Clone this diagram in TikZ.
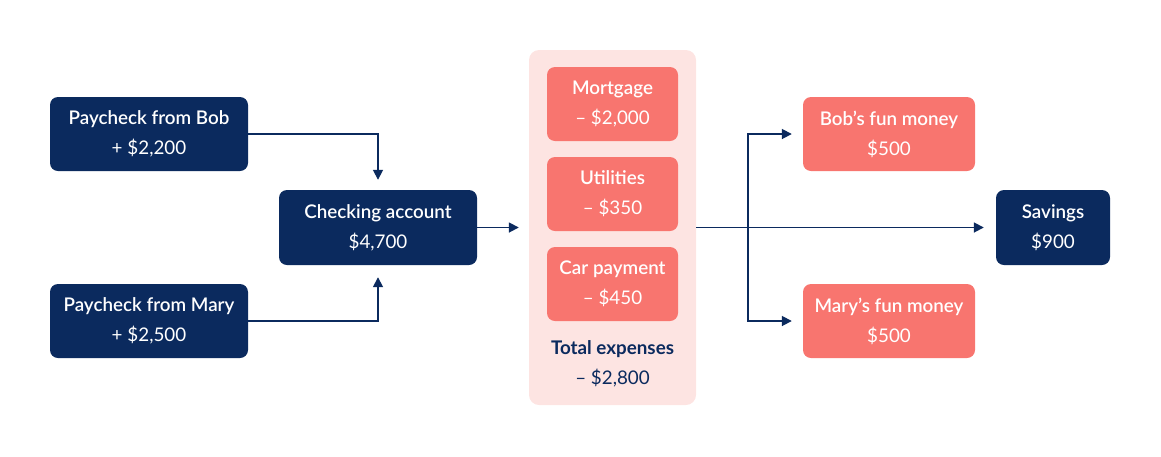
\documentclass[tikz,border=0pt]{standalone}
\usepackage{fontspec}
\setmainfont{Lato}
\newfontfamily\semi{Lato Semibold}
\usetikzlibrary{arrows.meta}
\definecolor{navy}{HTML}{0B2A5E}
\definecolor{coral}{HTML}{F8756F}
\definecolor{blush}{HTML}{FDE4E2}
\tikzset{
  box/.style={rounded corners=8pt, inner sep=0pt, align=center, text=white,
    font=\fontsize{18.8}{30}\selectfont},
  navybox/.style={box, fill=navy},
  coralbox/.style={box, fill=coral},
  conn/.style={draw=navy, line width=1.7pt, -{Triangle[length=10pt,width=10pt]}},
}
\begin{document}
\begin{tikzpicture}[x=1pt,y=-1pt]
\useasboundingbox (0,0) rectangle (1161,456);
% expense background
\node[fill=blush, rounded corners=10pt, minimum width=167pt, minimum height=355pt, inner sep=0pt] (exp) at (612.5,227.5) {};
% sources
\node[navybox, minimum width=198pt, minimum height=74pt] (bob) at (149,134) {{\semi Paycheck from Bob}\\+ \$2,200};
\node[navybox, minimum width=198pt, minimum height=74pt] (mary) at (149,321) {{\semi Paycheck from Mary}\\+ \$2,500};
\node[navybox, minimum width=198pt, minimum height=75pt] (check) at (378,227.5) {{\semi Checking account}\\\$4,700};
% expenses
\node[coralbox, minimum width=131pt, minimum height=74pt] (mort) at (612.5,104) {{\semi Mortgage}\\– \$2,000};
\node[coralbox, minimum width=131pt, minimum height=74pt] (util) at (612.5,194) {{\semi Utilities}\\– \$350};
\node[coralbox, minimum width=131pt, minimum height=74pt] (car) at (612.5,284) {{\semi Car payment}\\– \$450};
\node[box, text=navy] (total) at (612.5,364) {{\bfseries Total expenses}\\– \$2,800};
% outputs
\node[coralbox, minimum width=172pt, minimum height=74pt] (bobfun) at (889,134) {{\semi Bob’s fun money}\\\$500};
\node[coralbox, minimum width=172pt, minimum height=74pt] (maryfun) at (889,321) {{\semi Mary’s fun money}\\\$500};
\node[navybox, minimum width=114pt, minimum height=75pt] (sav) at (1053,227.5) {{\semi Savings}\\\$900};
% connectors
\draw[conn, shorten >=10pt] (bob.east) -| (check.north);
\draw[conn, shorten >=12pt] (mary.east) -| (check.south);
\draw[conn, shorten >=10pt] (check.east) -- (exp.west |- check.east);
\coordinate (br) at (748,227.5);
\draw[conn, shorten >=12pt] (exp.east |- sav.west) -- (sav.west);
\draw[conn, shorten >=11pt] (br) |- (bobfun.west);
\draw[conn, shorten >=11pt] (br) |- (maryfun.west);
\end{tikzpicture}
\end{document}
